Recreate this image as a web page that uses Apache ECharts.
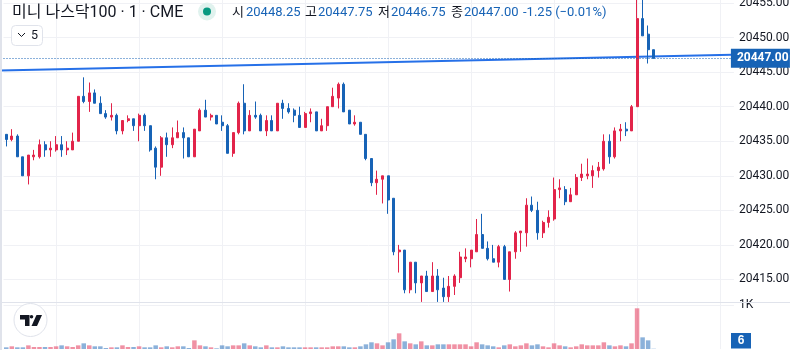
<!DOCTYPE html>
<html><head><meta charset="utf-8">
<style>html,body{margin:0;padding:0;background:#fff}#c{width:790px;height:356px}</style>
<script src="https://cdn.jsdelivr.net/npm/echarts@6/dist/echarts.min.js"></script>
</head><body><div id="c"></div>
<script>
const priceBase = 20400;
const opens = [36,35.25,35.75,32.75,30,32.75,32.75,34.5,33.75,33.75,
34.5,33.75,33.75,35,41.5,40.75,42,40.5,39,38.5,
38.75,36.5,38,38.25,37.25,38.75,37.25,34,31.25,35.5,
34.5,35.5,36.25,35.5,32.75,36.5,39.5,38.5,38.75,37.75,
37.25,33.25,36.25,40.5,36.5,38.75,38.75,36.5,38,36.5,
40.5,39.75,39.5,38.75,37,39,39.25,36.5,37.25,40,
41.25,43.25,39.5,37.5,37.75,36,32.5,29,29.5,30,
26.75,19,19.25,13.5,17.5,14.5,15.5,13.25,15.5,13.75,
12.5,14,15.25,18,18,19,21.5,19.5,18,17.5,
19.75,15,19,21.75,21.75,25.75,25,21.75,23.25,23.75,
28,28,26.25,27.25,29.75,30,30,30.75,31,35,
32.75,36.5,36.75,36.5,40,52.75,50.5,48.25];
const closes = [35.25,35.75,32.75,30,33,33,34.5,33.75,34,34.5,
33.75,34,35,41.5,40.75,42,40.5,39,38.5,38.75,
36.5,38,38.25,37.25,38.75,37.25,33.75,31.25,35.5,34.5,
35.5,36.25,35.5,32.75,36.75,39.5,38.5,38.75,37.5,37.25,
33.25,36.25,40.5,36.5,38.75,38.5,36.5,38,36.5,40.5,
39.75,39.25,38.75,37,39,39.25,36.5,37.25,40,41.5,
43.25,39.25,37.5,37.75,36,32.5,29,29.5,30,26.5,
19,19.25,13.5,17.5,14.5,15.5,13.25,15.5,13.5,12.5,
14,15.5,18.25,18.25,19.25,21.5,19.5,18,17.5,19.75,
15,19,21.75,22,25.75,25,21.75,23.25,24,28,
28.25,26.25,27.25,29.75,30.25,30.25,30.75,31.25,35,32.75,
36.5,36.75,36.5,40,52.75,50.25,48.25,47];
const highs = [36,36.75,36,32.75,33,33.75,35.25,35,35,35.75,
35.75,35,36.25,41.5,44.25,43.5,42.5,41.5,39.5,40.5,
39,38,38.75,38.25,39,39,37.25,34.25,35.75,36.25,
37,38,37,35.5,36.75,39.75,41,39,38.75,38.75,
37.5,36.25,40.75,43.25,39.5,40.75,39,38.75,38.75,40.5,
41,40.5,39.75,40,39.25,39.75,39.25,38.25,40,42.75,
43.5,43.5,39.5,38.75,37.75,36,32.5,30.75,30,30,
26.75,20,19.25,17.5,17.5,15.5,16.25,17.5,16.5,15.25,
15.5,15.75,19,19.5,19.25,23.75,24.5,20.5,20,20,
20,19,22,22,26.75,27,26.25,23.5,25,29.75,
29.5,28.5,28.25,30.25,31.75,32.5,31.5,32,36,36,
37,37.5,37.75,40.25,57,56,51.75,48.25];
const lows = [34.25,35,32.75,30,28.75,32.25,32.5,32.75,32.75,33.5,
32.75,33,33.75,35,40.5,39.25,40.5,39,38.25,38,
36,36,37.75,36.5,35,36.5,33.5,29.5,30,32.75,
34,35.5,32.5,32.75,32.75,36.5,38.5,38,37.5,36.5,
33.25,32.75,36,36,36.5,38.25,36.5,35.75,36.5,36.5,
38.25,39,37.75,37,37,37.75,36.5,36.5,36.5,40,
39.75,39.25,37.5,37.25,36,32.25,28.5,27.25,26,24.5,
18.5,16,13,13,13,11.75,13.25,13.25,11.75,11.75,
11.75,12.75,14.5,17.5,16.75,19,19.5,17.75,17.5,16.75,
15,13.25,18,19,19.75,24.75,20.75,21,22.5,23.5,
26.75,25.75,26.25,27.25,29.25,29.5,28.25,29.75,30.75,31.75,
32.5,35,35.75,36.5,40,50.25,46.25,47];
const volumes = [38,61,38,38,83,45,45,45,45,61,83,61,45,83,129,83,61,61,23,38,38,83,45,45,61,38,38,83,38,61,38,61,61,23,197,83,61,38,15,83,61,83,83,129,83,61,38,83,38,38,61,38,38,38,38,38,38,38,38,61,61,61,38,38,61,106,152,129,83,152,220,356,
174,129,106,174,83,83,106,106,106,106,106,106,61,152,106,83,61,38,83,106,61,83,129,83,106,61,38,129,83,61,38,61,106,83,83,83,152,83,61,83,61,129,925,265,197,6];
const categoryCount = 132;
const trendX = [-1.14, 141.64];
const trendY = [20445.25, 20447.7];
const lastPrice = 20447;
const title = '미니 나스닥100 · 1 · CME';
const ohlcLabels = [['시','20448.25',232,246],['고','20447.75',305,318],['저','20446.75',378,391],['종','20447.00',451,464]];
const changeText = '-1.25 (−0.01%)';

const RED='#e2244a', BLUE='#1763b6', GRID='#f0f1f5', INK='#131722', SEP='#e0e3eb';
const FONT='Roboto, "Noto Sans CJK KR", sans-serif';
const cats = Array.from({length:categoryCount},(_, i)=>String(i));
const candles = opens.map((o,i)=>[o+priceBase, closes[i]+priceBase, lows[i]+priceBase, highs[i]+priceBase]);
const volData = volumes.map((v,i)=>({value:v,itemStyle:{color:closes[i]>=opens[i]?'rgba(226,36,74,.5)':'rgba(23,99,182,.5)'}}));
const vLine = {show:true, alignWithLabel:true, interval:(i)=>i%15===9, lineStyle:{color:GRID,width:1}};

const txt=(x,y,t,color,size,extra)=>({type:'text',x,y,silent:true,z:50,style:Object.assign({text:t,fill:color,font:`${size}px ${FONT}`,verticalAlign:'middle'},extra||{})});
const graphic=[
 {type:'rect',shape:{x:0,y:0,width:2,height:350},style:{fill:SEP},silent:true,z:40},
 {type:'rect',shape:{x:2,y:302,width:788,height:1},style:{fill:SEP},silent:true,z:40},
 txt(12,12.5,title,INK,16),
 {type:'circle',shape:{cx:207,cy:11.5,r:9},style:{fill:'#e0f2ee'},silent:true,z:50},
 {type:'circle',shape:{cx:207,cy:11.5,r:4},style:{fill:'#089981'},silent:true,z:51},
 {type:'rect',shape:{x:11.5,y:25.5,width:31,height:20,r:4},style:{fill:'#fff',stroke:SEP,lineWidth:1},silent:true,z:50},
 {type:'polyline',shape:{points:[[18,33],[21.5,36.5],[25,33]]},style:{stroke:INK,lineWidth:1,fill:null},silent:true,z:51},
 txt(31,35.5,'5',INK,12.5,{}),
 txt(523,12.5,changeText,BLUE,13),
 {type:'circle',shape:{cx:30.5,cy:320,r:16.5},style:{fill:'#fff',stroke:SEP,lineWidth:1},silent:true,z:50},
 {type:'polygon',shape:{points:[[20,315],[29.5,315],[29.5,326],[25,326],[25,319.5],[20,319.5]]},style:{fill:INK},silent:true,z:51},
 {type:'polygon',shape:{points:[[36.5,315],[42,315],[37,326],[31.5,326]]},style:{fill:INK},silent:true,z:51},
 {type:'circle',shape:{cx:31.5,cy:316.8,r:1.8},style:{fill:INK},silent:true,z:51},
 {type:'rect',shape:{x:731,y:333,width:20,height:15.5},style:{fill:BLUE},silent:true,z:50},
 txt(741,341,String(volumes[volumes.length-1]),'#fff',13,{align:'center',fontWeight:'bold'})
];
ohlcLabels.forEach(r=>{graphic.push(txt(r[2],12.5,r[0],INK,13));graphic.push(txt(r[3],12.5,r[1],BLUE,13));});

const chart=echarts.init(document.getElementById('c'),null,{renderer:'canvas'});
chart.setOption({
 animation:false,
 backgroundColor:'#fff',
 grid:[
  {left:3.5,right:56.1,top:-31.5,height:345.5,outerBoundsMode:'none'},
  {left:3.5,right:56.1,top:305,height:44,outerBoundsMode:'none'},
  {left:0,right:0,top:-31.5,height:345.5,outerBoundsMode:'none'}
 ],
 xAxis:[
  {type:'category',gridIndex:0,data:cats,boundaryGap:true,axisLine:{show:false},axisTick:{show:false},axisLabel:{show:false},splitLine:vLine},
  {type:'category',gridIndex:1,data:cats,boundaryGap:true,axisLine:{show:false},axisTick:{show:false},axisLabel:{show:false},splitLine:vLine},
  {type:'value',gridIndex:2,min:trendX[0],max:trendX[1],show:false}
 ],
 yAxis:[
  {type:'value',gridIndex:0,position:'right',min:20410,max:20460,interval:5,
   axisLine:{show:false},axisTick:{show:false},
   axisLabel:{margin:5,color:INK,fontSize:12,fontFamily:FONT,padding:[3,0,0,0],showMinLabel:false,formatter:(v)=>v.toFixed(2)},
   splitLine:{show:true,showMinLine:false,lineStyle:{color:GRID,width:1}}},
  {type:'value',gridIndex:1,position:'right',min:0,max:1000,interval:1000,
   axisLine:{show:false},axisTick:{show:false},
   axisLabel:{margin:5,color:INK,fontSize:12,fontFamily:FONT,padding:[5,0,0,0],showMinLabel:false,formatter:(v)=>v>=1000?'1K':''},
   splitLine:{show:true,showMinLine:false,lineStyle:{color:GRID,width:1}}},
  {type:'value',gridIndex:2,min:20410,max:20460,show:false}
 ],
 series:[
  {type:'line',name:'last',xAxisIndex:0,yAxisIndex:0,data:[],z:1,
   markLine:{silent:true,symbol:'none',animation:false,data:[{yAxis:lastPrice}],
    lineStyle:{color:BLUE,type:[1,2],width:1},
    label:{show:true,position:'end',distance:0,offset:[-3,0],formatter:()=>lastPrice.toFixed(2),color:'#fff',backgroundColor:BLUE,
     fontSize:12,fontWeight:'bold',fontFamily:FONT,padding:[4,2,3,6],width:51}}},
  {type:'line',name:'trend',xAxisIndex:2,yAxisIndex:2,data:trendX.map((x,i)=>[x,trendY[i]]),showSymbol:false,z:2,
   lineStyle:{color:'#2670e8',width:2},silent:true},
  {type:'candlestick',name:'price',xAxisIndex:0,yAxisIndex:0,data:candles,barWidth:2.5,z:3,
   itemStyle:{color:RED,color0:BLUE,borderColor:RED,borderColor0:BLUE,borderWidth:1}},
  {type:'bar',name:'volume',xAxisIndex:1,yAxisIndex:1,data:volData,barWidth:4.5,z:3}
 ],
 graphic:{elements:graphic}
});
</script></body></html>
